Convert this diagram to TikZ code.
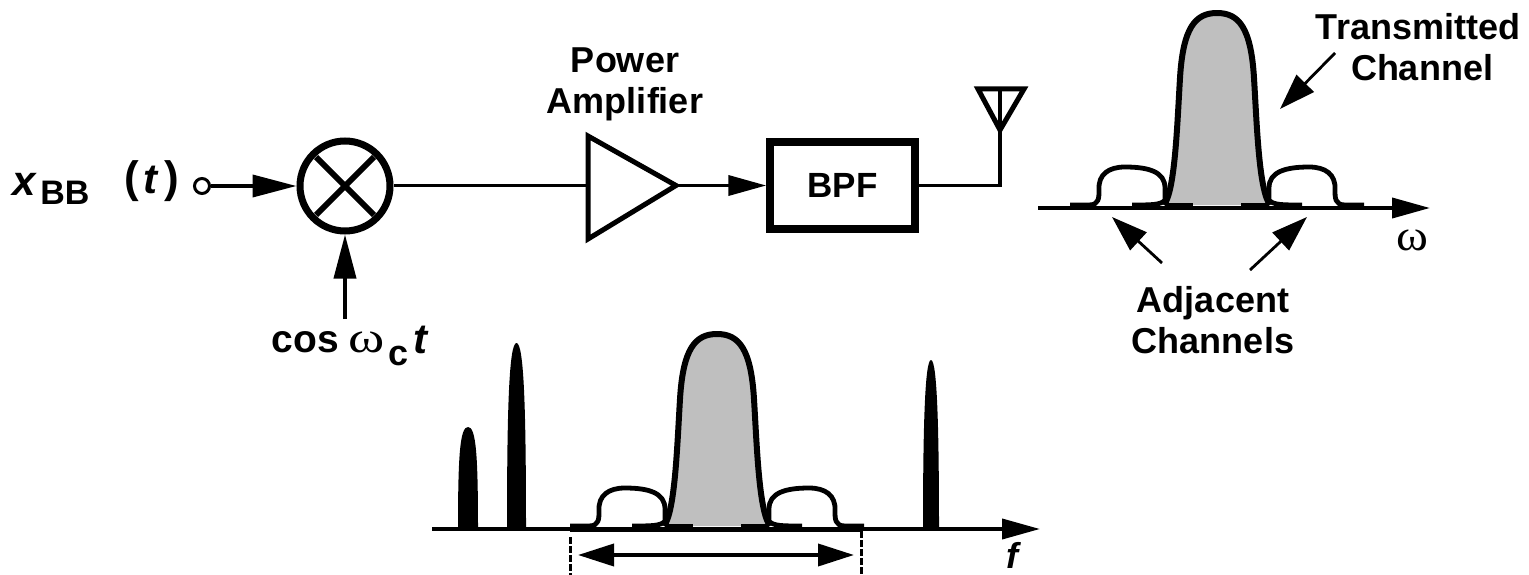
\documentclass[tikz,border=0pt]{standalone}
\usepackage{fontspec}
\setmainfont{Liberation Sans}
\newfontfamily\serifw{Liberation Serif}
\usetikzlibrary{arrows.meta}
\tikzset{
  x=1pt,y=-1pt,
  wire/.style={line width=3.8pt,draw=black},
  thinwire/.style={line width=2.6pt,draw=black},
  bighead/.style={-{Triangle[length=44pt,width=22pt]}},
  midhead/.style={-{Triangle[length=38pt,width=20pt]}},
  diaghead/.style={-{Triangle[length=36pt,width=24pt]},line width=2.8pt},
  lbl/.style={inner sep=0pt,font=\fontsize{36}{41}\selectfont\bfseries,align=center},
  sym/.style={inner sep=0pt,font=\fontsize{42}{46}\selectfont\bfseries\itshape},
  paren/.style={inner sep=0pt,font=\fontsize{44}{46}\selectfont\bfseries},
  omg/.style={inner sep=0pt,transform shape,font=\fontsize{44}{46}\selectfont\serifw},
  lobe/.style={line width=6pt,line join=round},
  spike/.style={fill=black,draw=none},
  spectrum/.pic={
    \fill[black!25] (-53,-3) .. controls (-42,-18) and (-40,-80) .. (-37,-130)
      .. controls (-34,-180) and (-22,-195) .. (0,-195)
      .. controls (22,-195) and (34,-180) .. (37,-130)
      .. controls (40,-80) and (42,-18) .. (53,-3) -- cycle;
    \draw[lobe] (-53,-3) .. controls (-42,-18) and (-40,-80) .. (-37,-130)
      .. controls (-34,-180) and (-22,-195) .. (0,-195)
      .. controls (22,-195) and (34,-180) .. (37,-130)
      .. controls (40,-80) and (42,-18) .. (53,-3);
    \draw[lobe,line width=4.8pt] (-147,-3) -- (-128,-3) .. controls (-118,-3) and (-118,-10) .. (-118,-18)
      .. controls (-119,-34) and (-108,-41) .. (-92,-41)
      .. controls (-68,-41) and (-52,-36) .. (-52,-20) -- (-52,-8)
      .. controls (-56,-3) and (-65,-3) .. (-85,-3);
    \draw[lobe,line width=4.8pt] (147,-3) -- (128,-3) .. controls (118,-3) and (118,-10) .. (118,-18)
      .. controls (119,-34) and (108,-41) .. (92,-41)
      .. controls (68,-41) and (52,-36) .. (52,-20) -- (52,-8)
      .. controls (56,-3) and (65,-3) .. (85,-3);
    \draw[line width=5pt] (-52,-2.5) -- (-24,-2.5) (24,-2.5) -- (52,-2.5);
  }
}
\begin{document}
\begin{tikzpicture}
\useasboundingbox (0,0) rectangle (1529,575);
% text of the input
\node[sym] (x) at (24,184) {x};
\node[lbl,font=\fontsize{34}{40}\selectfont\bfseries] (bb) at (65,193) {BB};
\node[paren] (lp) at (132,181) {(};
\node[sym] (tt) at (150,180) {t};
\node[paren] (rp) at (172,181) {)};
% mixer
\node[circle,draw,line width=7pt,minimum size=90pt,inner sep=0pt] (mix) at (345,186) {};
\draw[line width=5.8pt] (mix.center) ++(-29,-29) -- ++(58,58);
\draw[line width=5.8pt] (mix.center) ++(29,-29) -- ++(-58,58);
\node[circle,draw,line width=3pt,minimum size=15pt,inner sep=0pt] (in) at (202,186) {};
\draw[wire,bighead] (in) -- (mix);
\coordinate (lo) at (345,319);
\draw[wire,bighead] (lo) -- (mix);
\node[lbl,font=\fontsize{39}{40}\selectfont\bfseries] (cos) at (305.5,342.5) {cos};
\node[omg,xscale=1.25] (w) at (366.5,342) {ω};
\node[lbl] (c) at (398.5,356) {c};
\node[sym] (t2) at (420,340) {t};
% power amplifier
\node[lbl] (pa) at (625,84) {Power\\[0pt]Amplifier};
\coordinate (a1) at (588,136);
\coordinate (a2) at (588,239);
\coordinate (a3) at (676,185.5);
\draw[wire,line width=5pt,line join=miter] (a1) -- (a2) -- (a3) -- cycle;
\coordinate (ain) at (586,185.5);
\coordinate (amid) at (530,185.5);
\draw[wire] (mix.east |- amid) -- (amid);
\draw[thinwire] (amid) -- (ain);
% bpf
\node[draw,line width=7.5pt,minimum width=145pt,minimum height=87pt,inner sep=0pt,font=\fontsize{35}{40}\selectfont\bfseries] (bpf) at (842.5,185.5) {BPF};
\draw[wire,midhead] (a3) -- (bpf);
% antenna
\coordinate (ant) at (1000,130);
\coordinate (anl) at (978,89);
\coordinate (anr) at (1024,89);
\coordinate (anc) at (1000,89);
\draw[wire] (bpf.east) -- (1000,185.5) -- (ant);
\draw[wire,line width=5pt,line join=miter] (anl) -- (anr) -- (ant) -- cycle;
\draw[wire] (anc) -- (ant);
% top spectrum
\coordinate (ax1) at (1038,208);
\coordinate (ax2) at (1430,208);
\draw[wire,midhead] (ax1) -- (ax2);
\pic at (1217,208) {spectrum};
\node[omg,xscale=1.1] (om) at (1412.5,240) {ω};
\node[lbl] (tc) at (1418,47) {Transmitted\\[0pt]\hspace*{8pt}Channel};
\node[lbl] (ac) at (1213,320) {Adjacent\\[0pt]Channels};
\coordinate (t1) at (1335,53);  \coordinate (t2a) at (1280,109);
\coordinate (l1) at (1162,263); \coordinate (l2) at (1112,217);
\coordinate (r1) at (1250,270); \coordinate (r2) at (1307,217);
\draw[diaghead] (t1) -- (t2a);
\draw[diaghead] (l1) -- (l2);
\draw[diaghead] (r1) -- (r2);
% bottom spectrum
\coordinate (bx1) at (432,529);
\coordinate (bx2) at (1040,529);
\draw[wire,midhead] (bx1) -- (bx2);
\draw[line width=5pt] (570,529) -- (861,529);
\pic at (717,529) {spectrum};
\fill[spike] (458,529) .. controls (458,455) and (460,427) .. (468,427) .. controls (476,427) and (478,455) .. (478,529) -- cycle;
\fill[spike] (507,529) .. controls (507,410) and (509,343) .. (516.5,343) .. controls (524,343) and (526,410) .. (526,529) -- cycle;
\fill[spike] (923,529) .. controls (923,425) and (925,360) .. (931,360) .. controls (937,360) and (939,425) .. (939,529) -- cycle;
\coordinate (d1a) at (570,537); \coordinate (d1b) at (570,575);
\coordinate (d2a) at (861,531); \coordinate (d2b) at (861,575);
\draw[line width=3pt,dash pattern=on 7pt off 2pt] (d1a) -- (d1b);
\draw[line width=3pt,dash pattern=on 7pt off 2pt] (d2a) -- (d2b);
\coordinate (w1) at (578,555); \coordinate (w2) at (854,555);
\draw[wire,{Triangle[length=36pt,width=22pt]}-{Triangle[length=36pt,width=22pt]}] (w1) -- (w2);
\node[sym,font=\fontsize{36}{38}\selectfont\bfseries\itshape] (f) at (1012,555) {f};
\end{tikzpicture}
\end{document}
